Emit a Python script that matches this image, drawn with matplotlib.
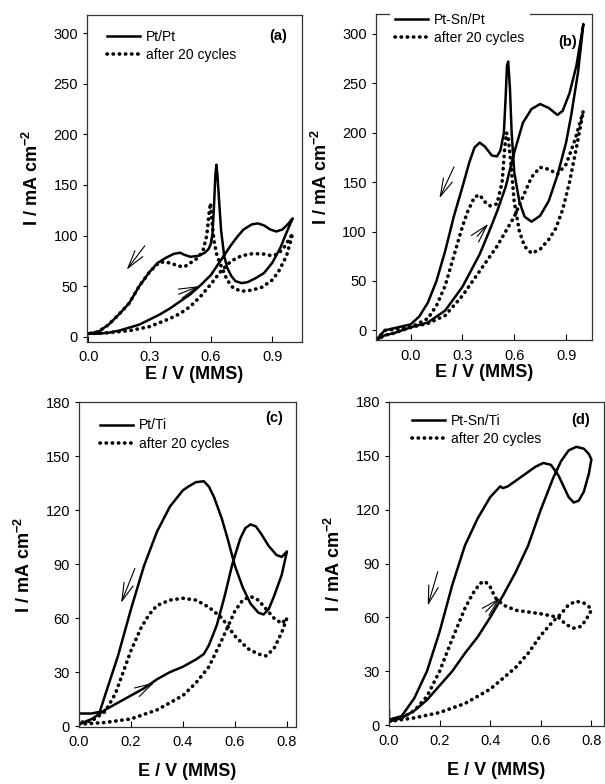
import numpy as np
import matplotlib
matplotlib.use('Agg')
import matplotlib.pyplot as plt

plt.rcParams['font.family'] = ['Liberation Sans', 'DejaVu Sans']
plt.rcParams['mathtext.fontset'] = 'custom'
plt.rcParams['mathtext.rm'] = 'Liberation Sans'
plt.rcParams['mathtext.bf'] = 'Liberation Sans:bold'

# ---- (a) Pt/Pt ----
a_fwd_E = [0.0, 0.05, 0.1, 0.15, 0.2, 0.25, 0.3, 0.35, 0.4, 0.45, 0.5, 0.55, 0.6, 0.65, 0.7, 0.73, 0.76, 0.8, 0.83, 0.86, 0.89, 0.92, 0.95, 0.98, 1.0]
a_fwd_I = [3, 3, 4, 6, 9, 12, 17, 22, 28, 35, 42, 51, 61, 76, 91, 99, 106, 111, 112, 110, 106, 104, 106, 112, 117]
a_bwd_E = [1.0, 0.97, 0.94, 0.9, 0.86, 0.82, 0.78, 0.75, 0.72, 0.7, 0.68, 0.665, 0.65, 0.64, 0.632, 0.627, 0.622, 0.615, 0.608, 0.6, 0.59, 0.57, 0.54, 0.5, 0.47, 0.45, 0.42, 0.38, 0.34, 0.3, 0.25, 0.2, 0.15, 0.1, 0.05, 0.0]
a_bwd_I = [117, 103, 88, 73, 63, 58, 54, 53, 55, 60, 68, 80, 105, 135, 160, 170, 160, 128, 102, 92, 87, 83, 80, 79, 81, 83, 82, 78, 73, 64, 50, 33, 22, 12, 5, 3]
a20_fwd_E = [0.0, 0.1, 0.2, 0.3, 0.4, 0.45, 0.5, 0.55, 0.6, 0.65, 0.7, 0.75, 0.8, 0.85, 0.9, 0.93, 0.96, 1.0]
a20_fwd_I = [3, 4, 6, 10, 18, 23, 30, 40, 52, 65, 75, 80, 82, 82, 80, 82, 89, 102]
a20_bwd_E = [1.0, 0.97, 0.93, 0.9, 0.85, 0.8, 0.75, 0.71, 0.68, 0.65, 0.63, 0.615, 0.605, 0.598, 0.59, 0.58, 0.56, 0.53, 0.5, 0.47, 0.44, 0.4, 0.35, 0.3, 0.25, 0.2, 0.15, 0.1, 0.05, 0.0]
a20_bwd_I = [102, 80, 64, 56, 49, 46, 45, 48, 56, 70, 80, 95, 115, 132, 120, 100, 84, 77, 73, 69, 70, 73, 74, 64, 50, 33, 22, 12, 5, 3]

# ---- (b) Pt-Sn/Pt ----
b_fwd_E = [-0.2, -0.15, -0.1, 0.0, 0.1, 0.2, 0.3, 0.4, 0.45, 0.5, 0.55, 0.6, 0.65, 0.7, 0.75, 0.8, 0.85, 0.88, 0.92, 0.96, 1.0]
b_fwd_I = [-10, -5, -3, 3, 8, 20, 44, 77, 98, 120, 145, 180, 210, 224, 229, 225, 218, 222, 240, 268, 310]
b_bwd_E = [1.0, 0.97, 0.93, 0.9, 0.85, 0.8, 0.75, 0.7, 0.66, 0.63, 0.6, 0.585, 0.575, 0.565, 0.558, 0.55, 0.54, 0.52, 0.5, 0.47, 0.43, 0.4, 0.37, 0.34, 0.3, 0.25, 0.2, 0.15, 0.1, 0.05, 0.0, -0.1, -0.15, -0.2]
b_bwd_I = [310, 262, 218, 190, 157, 131, 116, 110, 115, 130, 160, 200, 245, 272, 268, 235, 200, 182, 176, 177, 186, 190, 185, 170, 145, 115, 80, 50, 28, 14, 6, 2, 0, -10]
b20_fwd_E = [-0.2, -0.15, -0.1, 0.0, 0.1, 0.2, 0.3, 0.4, 0.5, 0.6, 0.65, 0.7, 0.75, 0.8, 0.85, 0.9, 0.95, 1.0]
b20_fwd_I = [-10, -5, -3, 3, 7, 15, 35, 60, 85, 115, 135, 155, 165, 163, 158, 168, 192, 222]
b20_bwd_E = [1.0, 0.96, 0.92, 0.88, 0.84, 0.8, 0.75, 0.7, 0.66, 0.63, 0.6, 0.58, 0.565, 0.555, 0.545, 0.53, 0.5, 0.46, 0.43, 0.4, 0.37, 0.33, 0.3, 0.25, 0.2, 0.15, 0.1, 0.0, -0.1, -0.15, -0.2]
b20_bwd_I = [222, 185, 150, 122, 103, 92, 82, 78, 85, 100, 130, 170, 195, 200, 185, 150, 128, 126, 130, 137, 135, 120, 105, 75, 45, 25, 12, 3, 1, 0, -10]

# ---- (c) Pt/Ti ----
c_fwd_E = [0.0, 0.05, 0.1, 0.15, 0.2, 0.25, 0.3, 0.35, 0.4, 0.45, 0.48, 0.5, 0.53, 0.56, 0.59, 0.62, 0.64, 0.66, 0.68, 0.7, 0.73, 0.76, 0.78, 0.8]
c_fwd_I = [1, 4, 9, 13, 17, 21, 26, 30, 33, 37, 40, 45, 56, 72, 90, 104, 110, 112, 111, 107, 100, 95, 94, 97]
c_bwd_E = [0.8, 0.78, 0.75, 0.73, 0.71, 0.69, 0.66, 0.63, 0.6, 0.57, 0.55, 0.52, 0.5, 0.48, 0.45, 0.42, 0.4, 0.35, 0.3, 0.25, 0.2, 0.15, 0.1, 0.08, 0.05, 0.0]
c_bwd_I = [97, 84, 72, 65, 62, 63, 68, 77, 89, 105, 115, 127, 133, 136, 135.5, 133, 131, 122, 108, 89, 65, 39, 17, 8, 7, 7]
c20_fwd_E = [0.0, 0.1, 0.2, 0.3, 0.4, 0.45, 0.5, 0.55, 0.6, 0.63, 0.66, 0.69, 0.72, 0.75, 0.78, 0.8]
c20_fwd_I = [1, 2, 4, 9, 17, 24, 33, 48, 64, 70, 72, 70, 65, 60, 57, 60]
c20_bwd_E = [0.8, 0.78, 0.75, 0.72, 0.69, 0.65, 0.6, 0.55, 0.5, 0.45, 0.4, 0.35, 0.3, 0.27, 0.24, 0.2, 0.17, 0.14, 0.1, 0.05, 0.0]
c20_bwd_I = [60, 52, 43, 39, 40, 43, 50, 60, 66, 70, 71, 70, 67, 62, 55, 42, 30, 18, 8, 3, 2]

# ---- (d) Pt-Sn/Ti ----
d_fwd_E = [0.0, 0.05, 0.1, 0.15, 0.2, 0.25, 0.3, 0.35, 0.4, 0.45, 0.5, 0.55, 0.6, 0.65, 0.68, 0.71, 0.74, 0.77, 0.79, 0.8]
d_fwd_I = [2, 4, 8, 14, 22, 30, 40, 49, 60, 72, 85, 100, 120, 138, 147, 153, 155, 154, 151, 148]
d_bwd_E = [0.8, 0.79, 0.77, 0.75, 0.73, 0.71, 0.69, 0.67, 0.64, 0.61, 0.58, 0.54, 0.5, 0.47, 0.45, 0.44, 0.42, 0.4, 0.35, 0.3, 0.25, 0.2, 0.15, 0.1, 0.05, 0.0, 0.0]
d_bwd_I = [148, 140, 130, 125, 124, 127, 133, 139, 145, 146, 144, 140, 136, 133, 132, 133, 130, 127, 115, 100, 78, 52, 30, 15, 5, 3, 8]
d20_fwd_E = [0.0, 0.1, 0.2, 0.3, 0.4, 0.5, 0.55, 0.6, 0.65, 0.68, 0.71, 0.74, 0.77, 0.79, 0.8]
d20_fwd_I = [2, 4, 7, 12, 20, 32, 40, 50, 58, 62, 67, 69, 68, 66, 64]
d20_bwd_E = [0.8, 0.78, 0.76, 0.73, 0.7, 0.67, 0.6, 0.5, 0.45, 0.42, 0.4, 0.38, 0.36, 0.33, 0.3, 0.25, 0.2, 0.15, 0.1, 0.05, 0.0]
d20_bwd_I = [64, 59, 55, 54, 56, 60, 62, 64, 67, 71, 77, 80, 79, 73, 65, 48, 30, 16, 8, 4, 2]

panels = [
    dict(pos=[0.144, 0.564, 0.355, 0.417], lab='Pt/Pt', tag='(a)',
         solid=(a_fwd_E + a_bwd_E, a_fwd_I + a_bwd_I),
         dot=(a20_fwd_E + a20_bwd_E, a20_fwd_I + a20_bwd_I),
         xlim=(-0.005, 1.045), ylim=(-5, 318), xt=[0.0, 0.3, 0.6, 0.9], yt=np.arange(0, 301, 50),
         arr=[((0.285, 92), (0.18, 64)), ((0.43, 41), (0.555, 51))], xlpad=1,
         leg=(0.067, 0.905), tagpos=(0.93, 0.936)),
    dict(pos=[0.6215, 0.566, 0.357, 0.416], lab='Pt-Sn/Pt', tag='(b)',
         solid=(b_fwd_E + b_bwd_E, b_fwd_I + b_bwd_I),
         dot=(b20_fwd_E + b20_bwd_E, b20_fwd_I + b20_bwd_I),
         xlim=(-0.2, 1.05), ylim=(-10, 320), xt=[0.0, 0.3, 0.6, 0.9], yt=np.arange(0, 301, 50),
         arr=[((0.258, 168), (0.16, 131)), ((0.374, 93), (0.461, 110))], xlpad=1,
         leg=(0.0625, 0.954), tagpos=(0.93, 0.914)),
    dict(pos=[0.1306, 0.0727, 0.3587, 0.4145], lab='Pt/Ti', tag='(c)',
         solid=(c_fwd_E + c_bwd_E, c_fwd_I + c_bwd_I),
         dot=(c20_fwd_E + c20_bwd_E, c20_fwd_I + c20_bwd_I),
         xlim=(0.0, 0.835), ylim=(-0.5, 180), xt=[0.0, 0.2, 0.4, 0.6, 0.8], yt=np.arange(0, 181, 30),
         arr=[((0.219, 89), (0.158, 67)), ((0.2, 17), (0.3, 25))], xlpad=10,
         leg=(0.071, 0.9), tagpos=(0.94, 0.951)),
    dict(pos=[0.643, 0.074, 0.3554, 0.4133], lab='Pt-Sn/Ti', tag='(d)',
         solid=(d_fwd_E + d_bwd_E, d_fwd_I + d_bwd_I),
         dot=(d20_fwd_E + d20_bwd_E, d20_fwd_I + d20_bwd_I),
         xlim=(0.0, 0.85), ylim=(-0.5, 180), xt=[0.0, 0.2, 0.4, 0.6, 0.8], yt=np.arange(0, 181, 30),
         arr=[((0.196, 87), (0.15, 65)), ((0.374, 62), (0.447, 72))], xlpad=10,
         leg=(0.081, 0.914), tagpos=(0.935, 0.944)),
]

fig = plt.figure(figsize=(6.05, 7.84), dpi=100)

for p in panels:
    ax = fig.add_axes(p['pos'])
    ax.plot(*p['solid'], color='black', lw=1.8, label=p['lab'])
    ax.plot(*p['dot'], color='black', lw=2.6, linestyle=(0, (0.1, 1.6)),
            dash_capstyle='round', label='after 20 cycles')
    # scan direction arrows (open V heads)
    for tail, head in p['arr']:
        ax.annotate('', xy=head, xytext=tail,
                    arrowprops=dict(arrowstyle='->,head_length=1.3,head_width=0.35', lw=0.8, color='black'))
    ax.set_xlim(*p['xlim'])
    ax.set_ylim(*p['ylim'])
    ax.set_xticks(p['xt'])
    ax.set_xticklabels(['%.1f' % v for v in p['xt']])
    ax.set_yticks(p['yt'])
    ax.tick_params(axis='x', direction='in', labelsize=10.5, length=4, pad=6)
    ax.tick_params(axis='y', direction='out', labelsize=10.5, length=3)
    ax.set_xlabel('E / V (MMS)', fontsize=13, fontweight='bold', labelpad=p['xlpad'])
    ax.set_ylabel(r'I / mA cm$^{\mathbf{-2}}$', fontsize=13, fontweight='bold', labelpad=8)
    leg = ax.legend(loc='center left', bbox_to_anchor=p['leg'], frameon=True, fontsize=10,
                    handlelength=2.4, borderaxespad=0.0, labelspacing=0.3, handletextpad=0.4)
    leg.get_frame().set_edgecolor('none')
    leg.get_frame().set_facecolor('white')
    leg.get_frame().set_alpha(1)
    leg.set_zorder(5)
    ax.text(p['tagpos'][0], p['tagpos'][1], p['tag'], transform=ax.transAxes, fontsize=10.5,
            fontweight='bold', ha='right', va='center')
    for s in ax.spines.values():
        s.set_linewidth(0.9)
        s.set_color('#333333')

fig.savefig('out.png', dpi=100)
